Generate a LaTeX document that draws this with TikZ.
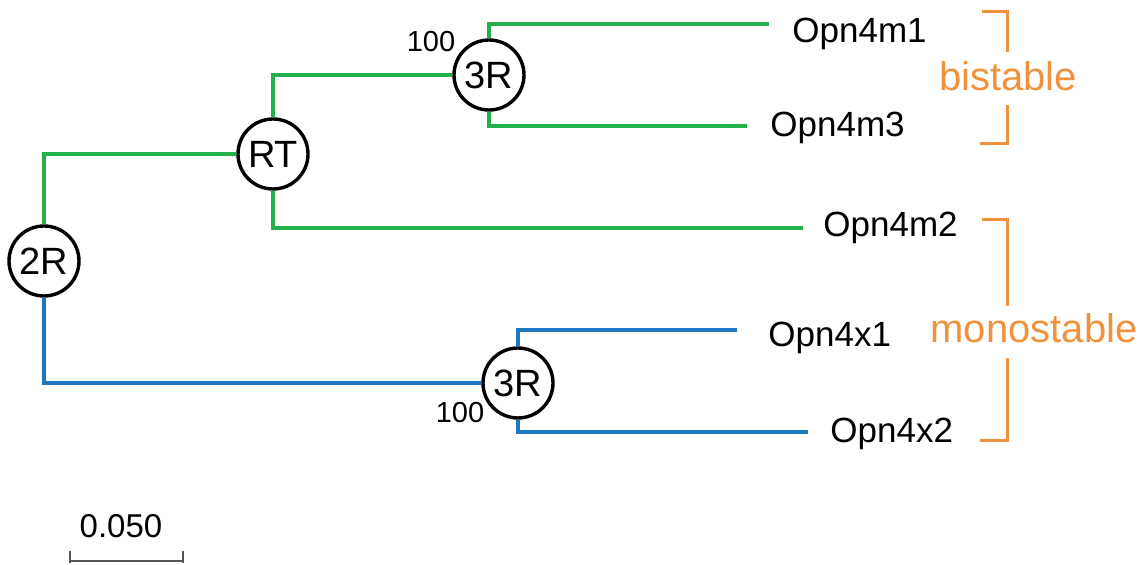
\documentclass[tikz,border=0pt]{standalone}
\usepackage{fontspec}
\setmainfont{Liberation Sans}
\definecolor{mgreen}{HTML}{22B14C}
\definecolor{xblue}{HTML}{1F77C4}
\definecolor{stateorange}{HTML}{F0923C}
\definecolor{bargray}{HTML}{555555}
\begin{document}
\begin{tikzpicture}[x=0.5pt,y=-0.5pt,
  branch/.style={line width=1.75pt, line join=miter},
  mbranch/.style={branch, draw=mgreen},
  xbranch/.style={branch, draw=xblue},
  event/.style={circle, draw=black, line width=1.7pt, fill=white,
    minimum size=35pt, inner sep=0pt, font=\fontsize{19}{22}\selectfont},
  leaf/.style={anchor=base west, inner sep=0pt, font=\fontsize{17.5}{21}\selectfont},
  support/.style={inner sep=0pt, font=\fontsize{14.5}{17}\selectfont},
  state/.style={anchor=base, inner sep=0pt, text=stateorange, font=\fontsize{20}{24}\selectfont},
  bracket/.style={draw=stateorange, line width=1.5pt, line join=miter}]
\useasboundingbox (0,0) rectangle (1147,565);

% duplication / retrotransposition events
\node[event] (r2)  at (44,261)  {2R};
\node[event] (rt)  at (273,154) {RT};
\node[event] (up3) at (489,75)  {3R};
\node[event] (lo3) at (518,383) {3R};

% branch tips
\coordinate (m1end) at (769,24);
\coordinate (m3end) at (747,126);
\coordinate (m2end) at (803,228);
\coordinate (x1end) at (737,330);
\coordinate (x2end) at (808,432);

% branches
\draw[mbranch] (r2.north) |- (rt.west);
\draw[mbranch] (rt.north) |- (up3.west);
\draw[mbranch] (rt.south) |- (m2end);
\draw[mbranch] (up3.north) |- (m1end);
\draw[mbranch] (up3.south) |- (m3end);
\draw[xbranch] (r2.south) |- (lo3.west);
\draw[xbranch] (lo3.north) |- (x1end);
\draw[xbranch] (lo3.south) |- (x2end);

% bootstrap support
\node[support] (bs1) at (431,42)  {100};
\node[support] (bs2) at (460,413) {100};

% gene names
\node[leaf] (m1) at (792,43)  {Opn4m1};
\node[leaf] (m3) at (770,137) {Opn4m3};
\node[leaf] (m2) at (823,237) {Opn4m2};
\node[leaf] (x1) at (768,347) {Opn4x1};
\node[leaf] (x2) at (830,443) {Opn4x2};

% photochemical groups
\node[state] (bi)   at (1008,91)  {bistable};
\node[state] (mono) at (1034,343) {monostable};
\draw[bracket] (982,12) -- (1007,12) -- (1007,52);
\draw[bracket] (1007,105) -- (1007,144) -- (980,144);
\draw[bracket] (982,220) -- (1007,220) -- (1007,306);
\draw[bracket] (1007,358) -- (1007,441) -- (980,441);

% scale bar
\node[inner sep=0pt, font=\fontsize{16.5}{19}\selectfont] (scale) at (121,526) {0.050};
\draw[draw=bargray, line width=1.1pt] (70,561) -- (183,561);
\draw[draw=bargray, line width=1.1pt] (70,551) -- (70,563);
\draw[draw=bargray, line width=1.1pt] (183,551) -- (183,563);
\end{tikzpicture}
\end{document}
